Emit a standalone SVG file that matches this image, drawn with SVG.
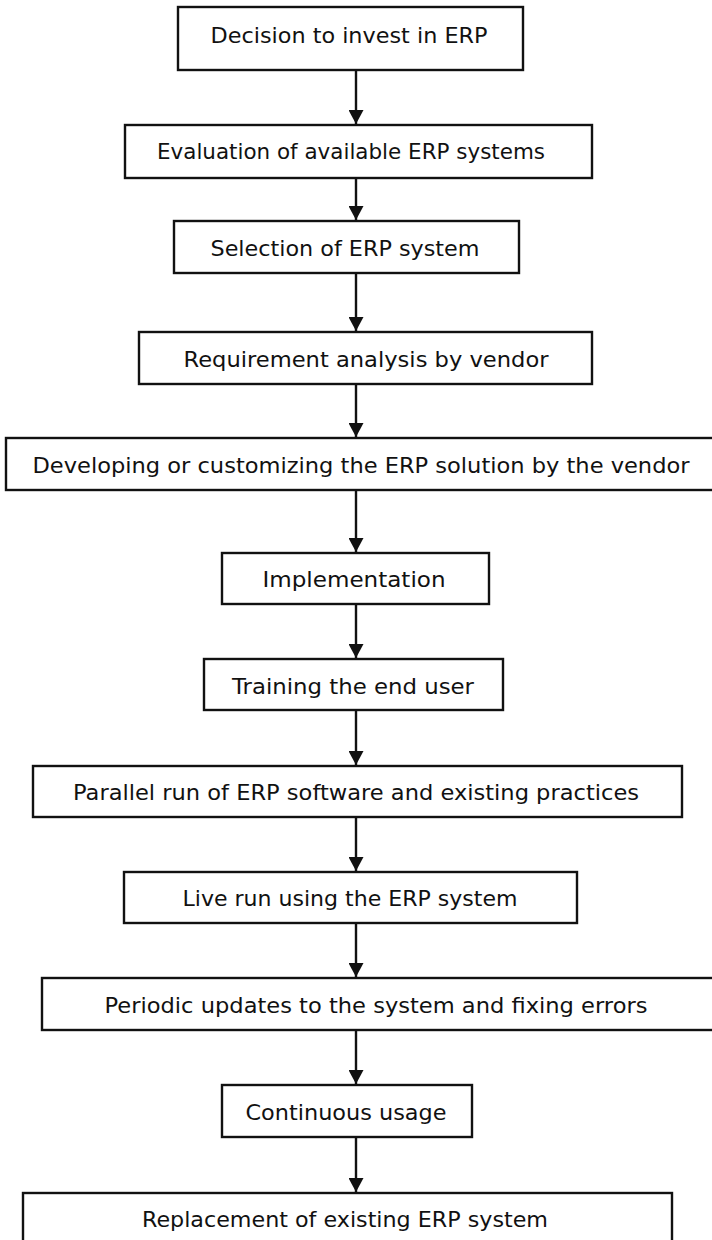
<svg xmlns="http://www.w3.org/2000/svg" width="712" height="1240" viewBox="0 0 712 1240">
  <defs>
    <style>
      .box { fill: #ffffff; stroke: #111111; stroke-width: 2.4; }
      .lbl { font-family: "DejaVu Sans", Verdana, sans-serif; font-size: 22px; fill: #111111; text-anchor: middle; }
      .link { stroke: #111111; stroke-width: 2.4; fill: none; marker-end: url(#head); }
    </style>
    <marker id="head" viewBox="0 0 14 15" refX="14" refY="7.5" markerWidth="14" markerHeight="15" markerUnits="userSpaceOnUse" orient="auto">
      <path d="M0,0 L14,7.5 L0,15 Z" fill="#111111"/>
    </marker>
  </defs>
  <rect width="712" height="1240" fill="#ffffff"/>

  <!-- connectors -->
  <g id="connectors">
    <line class="link" x1="356" y1="71" x2="356" y2="124"/>
    <line class="link" x1="356" y1="179" x2="356" y2="220"/>
    <line class="link" x1="356" y1="274" x2="356" y2="331"/>
    <line class="link" x1="356" y1="385" x2="356" y2="437"/>
    <line class="link" x1="356" y1="491" x2="356" y2="552"/>
    <line class="link" x1="356" y1="605" x2="356" y2="658"/>
    <line class="link" x1="356" y1="711" x2="356" y2="765"/>
    <line class="link" x1="356" y1="818" x2="356" y2="871"/>
    <line class="link" x1="356" y1="924" x2="356" y2="977"/>
    <line class="link" x1="356" y1="1031" x2="356" y2="1084"/>
    <line class="link" x1="356" y1="1138" x2="356" y2="1192"/>
  </g>

  <!-- process steps -->
  <g id="n1"><rect class="box" x="178" y="7" width="345" height="63"/><text class="lbl" x="349" y="43" textLength="277" lengthAdjust="spacingAndGlyphs">Decision to invest in ERP</text></g>
  <g id="n2"><rect class="box" x="125" y="125" width="467" height="53"/><text class="lbl" x="351" y="159" textLength="388" lengthAdjust="spacingAndGlyphs">Evaluation of available ERP systems</text></g>
  <g id="n3"><rect class="box" x="174" y="221" width="345" height="52"/><text class="lbl" x="345" y="256" textLength="269" lengthAdjust="spacingAndGlyphs">Selection of ERP system</text></g>
  <g id="n4"><rect class="box" x="139" y="332" width="453" height="52"/><text class="lbl" x="366" y="367" textLength="365" lengthAdjust="spacingAndGlyphs">Requirement analysis by vendor</text></g>
  <g id="n5"><rect class="box" x="6" y="438" width="710" height="52"/><text class="lbl" x="361" y="473" textLength="657" lengthAdjust="spacingAndGlyphs">Developing or customizing the ERP solution by the vendor</text></g>
  <g id="n6"><rect class="box" x="222" y="553" width="267" height="51"/><text class="lbl" x="354" y="587" textLength="183" lengthAdjust="spacingAndGlyphs">Implementation</text></g>
  <g id="n7"><rect class="box" x="204" y="659" width="299" height="51"/><text class="lbl" x="353" y="694" textLength="242" lengthAdjust="spacingAndGlyphs">Training the end user</text></g>
  <g id="n8"><rect class="box" x="33" y="766" width="649" height="51"/><text class="lbl" x="356" y="800" textLength="566" lengthAdjust="spacingAndGlyphs">Parallel run of ERP software and existing practices</text></g>
  <g id="n9"><rect class="box" x="124" y="872" width="453" height="51"/><text class="lbl" x="350" y="906" textLength="335" lengthAdjust="spacingAndGlyphs">Live run using the ERP system</text></g>
  <g id="n10"><rect class="box" x="42" y="978" width="674" height="52"/><text class="lbl" x="376" y="1013" textLength="543" lengthAdjust="spacingAndGlyphs">Periodic updates to the system and fixing errors</text></g>
  <g id="n11"><rect class="box" x="222" y="1085" width="250" height="52"/><text class="lbl" x="346" y="1120" textLength="201" lengthAdjust="spacingAndGlyphs">Continuous usage</text></g>
  <g id="n12"><rect class="box" x="23" y="1193" width="649" height="60"/><text class="lbl" x="345" y="1227" textLength="406" lengthAdjust="spacingAndGlyphs">Replacement of existing ERP system</text></g>
</svg>
